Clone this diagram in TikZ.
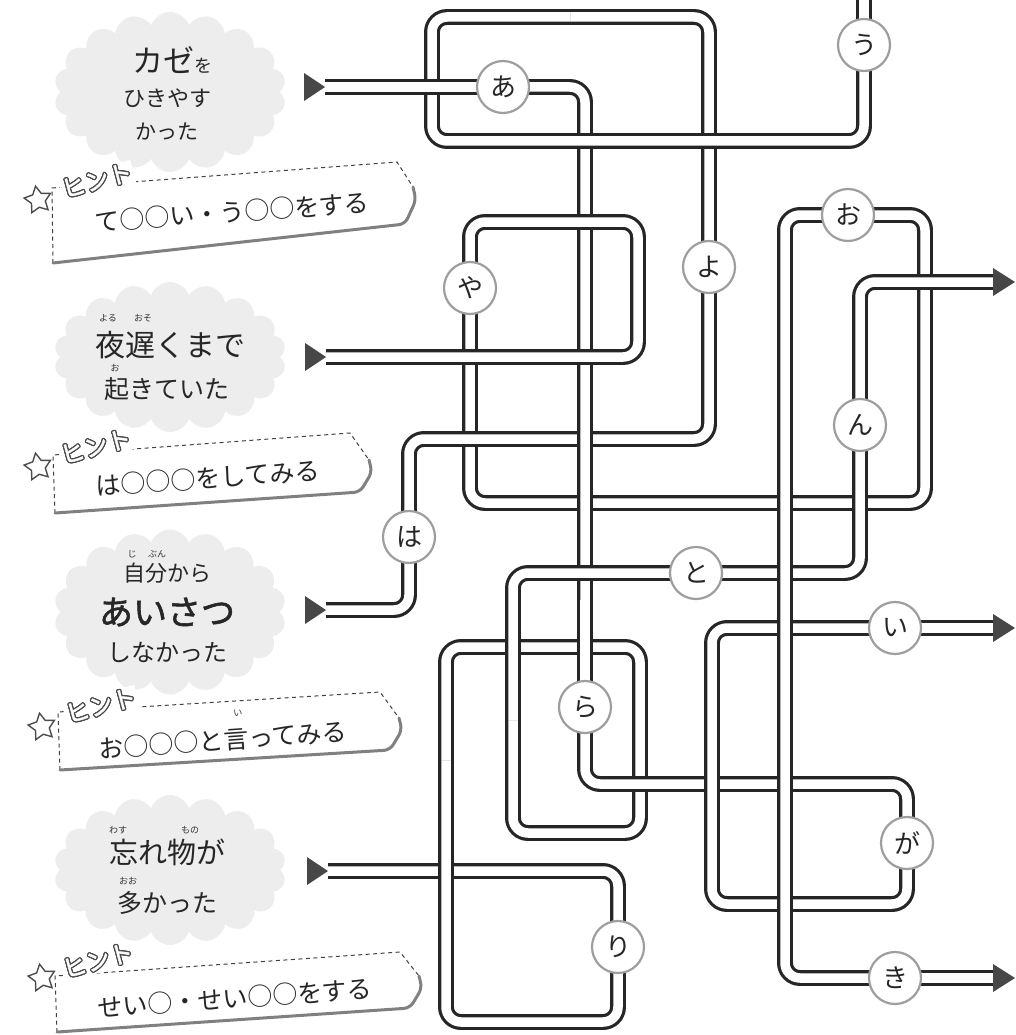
\documentclass[tikz,border=0pt]{standalone}
\usepackage{fontspec}
\usepackage[copies]{contour}
\newfontfamily\jp{Noto Sans CJK JP}
\newfontfamily\jpb[FakeBold=1.6]{Noto Sans CJK JP}
\usetikzlibrary{shapes.symbols,shapes.geometric}
\newcommand\fs[1]{\fontsize{#1}{#1}\selectfont}
\contourlength{1.3pt}
\contournumber{12}
\newcommand\hintword{{\color{white}\contour{black!70}{ヒント}}}
\begin{document}
\begin{tikzpicture}[x=1pt,y=-1pt,
 pipe/.style={draw=black!85,line width=3.2pt,double=white,double distance=9.5pt,rounded corners=15pt},
 ltr/.style={circle,draw=black!38,line width=2.2pt,fill=white,minimum size=52pt,inner sep=0pt,font=\jp\fs{26},text=black!85},
 tri/.style={fill=black!72},
 cloudbg/.style={cloud,cloud puffs=18,cloud puff arc=140,cloud ignores aspect,fill=black!7,draw=none,inner sep=0pt,minimum width=232pt},
 hdash/.style={draw=black!75,line width=1pt,dash pattern=on 4pt off 3.5pt},
 hsolid/.style={draw=black!50,line width=3pt,line join=round,line cap=round},
 txt/.style={text=black!85,inner sep=0pt},
 badge/.style={inner sep=1.5pt,fill=white,font=\jpb\fs{24},rotate=15},
 bstar/.style={star,star points=5,star point ratio=1.9,draw=black!70,line width=1.4pt,fill=white,minimum size=28pt,inner sep=0pt,rotate=10},
 ruby/.style={text=black!80,inner sep=0pt,font=\jp\fs{9}},
]
\useasboundingbox (0,0) rectangle (1016,1035);
\fill[white] (0,0) rectangle (1016,1035);

% ---------- background clouds ----------
\node[cloudbg,minimum height=160pt] (bg1) at (170,92) {};
\node[cloudbg,minimum height=150pt] (bg2) at (170,357) {};
\node[cloudbg,minimum height=165pt] (bg3) at (170,612) {};
\node[cloudbg,minimum height=150pt] (bg4) at (170,870) {};

% ---------- hint boxes ----------
\fill[white] (52,188) -- (397,162) -- (414,190) -- (405,224) -- (53,263) -- cycle;
\draw[hdash] (53,263) -- (52,188) -- (397,162) -- (413,187);
\draw[hsolid,rounded corners=6pt] (413,187) -- (416,200) -- (405,224) -- (53,263);

\fill[white] (53,455) -- (350,433) -- (370,462) -- (360,492) -- (55,513) -- cycle;
\draw[hdash] (55,513) -- (53,455) -- (350,433) -- (369,460);
\draw[hsolid,rounded corners=6pt] (369,460) -- (372,472) -- (360,492) -- (55,513);

\fill[white] (58,712) -- (380,692) -- (400,720) -- (390,750) -- (60,770) -- cycle;
\draw[hdash] (60,770) -- (58,712) -- (380,692) -- (399,718);
\draw[hsolid,rounded corners=6pt] (399,718) -- (402,730) -- (390,750) -- (60,770);

\fill[white] (55,976) -- (400,952) -- (420,978) -- (410,1008) -- (57,1032) -- cycle;
\draw[hdash] (57,1032) -- (55,976) -- (400,952) -- (419,976);
\draw[hsolid,rounded corners=6pt] (419,976) -- (422,988) -- (410,1008) -- (57,1032);

% badges
\node[bstar] (s1) at (38,200) {};
\node[badge] (b1) at (97,181) {\hintword};
\node[bstar] (s2) at (38,467) {};
\node[badge] (b2) at (96,447) {\hintword};
\node[bstar] (s3) at (42,727) {};
\node[badge] (b3) at (101,706) {\hintword};
\node[bstar] (s4) at (42,978) {};
\node[badge] (b4) at (98,961) {\hintword};

% hint texts
\node[txt,rotate=4,font=\jp\fs{25}] (k1) at (232,212) {て○○い・う○○をする};
\node[txt,rotate=4,font=\jp\fs{25}] (k2) at (208,478) {は○○○をしてみる};
\node[txt,rotate=4,font=\jp\fs{25}] (k3) at (223,740) {お○○○と言ってみる};
\node[ruby,rotate=4] (k3r) at (238,713) {い};
\node[txt,rotate=4,font=\jp\fs{25}] (k4) at (235,998) {せい○・せい○○をする};

% main texts
\node[txt,font=\jp\fs{31}] (t1a) at (172,60) {カゼ{\fs{18}を}};
\node[txt,font=\jp\fs{22}] (t1b) at (167,98) {ひきやす};
\node[txt,font=\jp\fs{21}] (t1c) at (167,132) {かった};

\node[ruby] (r2a) at (108,318) {よる};
\node[ruby] (r2b) at (143,318) {おそ};
\node[txt,font=\jp\fs{30}] (t2a) at (170,345) {夜遅くまで};
\node[ruby] (r2c) at (115,368) {お};
\node[txt,font=\jp\fs{25}] (t2b) at (167,389) {起きていた};

\node[ruby] (r3a) at (132,554) {じ};
\node[ruby] (r3b) at (157,554) {ぶん};
\node[txt,font=\jp\fs{22}] (t3a) at (167,573) {自分から};
\node[txt,font=\jpb\fs{34}] (t3b) at (167,612) {あいさつ};
\node[txt,font=\jp\fs{24}] (t3c) at (167,652) {しなかった};

\node[ruby] (r4a) at (118,830) {わす};
\node[ruby] (r4b) at (190,830) {もの};
\node[txt,font=\jp\fs{29}] (t4a) at (167,852) {忘れ物が};
\node[ruby] (r4c) at (128,881) {おお};
\node[txt,font=\jp\fs{25}] (t4b) at (167,903) {多かった};

% ---------- maze coordinates ----------
\coordinate (cA) at (503,87);
\coordinate (cU) at (864,45);
\coordinate (cO) at (848,215);
\coordinate (cYa) at (470,288);
\coordinate (cYo) at (709,267);
\coordinate (cN) at (860,425);
\coordinate (cHa) at (409,537);
\coordinate (cTo) at (696,573);
\coordinate (cI) at (895,628);
\coordinate (cRa) at (585,707);
\coordinate (cGa) at (907,843);
\coordinate (cRi) at (618,947);
\coordinate (cKi) at (895,978);
\coordinate (la1) at (325,87);
\coordinate (la2) at (326,357);
\coordinate (la3) at (326,610);
\coordinate (la4) at (328,871);
\coordinate (ra1) at (993,282);
\coordinate (ra2) at (993,628);
\coordinate (ra3) at (993,978);
\coordinate (top) at (864,0);
\coordinate (j1) at (570,17);
\coordinate (j2) at (585,600);
\coordinate (j3) at (446,760);
\coordinate (j4) at (513,720);

% ---------- pipes ----------
\draw[pipe] (cYa) -- (470,503) -- (925,503) -- (925,215) -- (cO);
\draw[pipe] (cHa) -- (409,439) -- (709,439) -- (cYo);
\draw[pipe] (cA) -- (585,87) -- (j2);
\draw[pipe] (la2) -- (638,357) -- (638,222) -- (470,222) -- (cYa);
\draw[pipe] (cYo) -- (709,17) -- (j1);
\draw[pipe] (j1) -- (432,17) -- (432,141) -- (864,141) -- (cU);
\draw[pipe] (la1) -- (cA);
\draw[pipe] (la4) -- (618,871) -- (cRi);
\draw[pipe] (cRi) -- (618,1022) -- (446,1022) -- (j3);
\draw[pipe] (j3) -- (446,647) -- (640,647) -- (640,833) -- (513,833) -- (j4);
\draw[pipe] (j4) -- (513,573) -- (cTo);
\draw[pipe] (j2) -- (cRa);
\draw[pipe] (cRa) -- (585,784) -- (907,784) -- (cGa);
\draw[pipe] (cGa) -- (907,904) -- (712,904) -- (712,628) -- (cI);
\draw[pipe] (cI) -- (ra2);
\draw[pipe] (cTo) -- (860,573) -- (cN);
\draw[pipe] (cN) -- (860,282) -- (ra1);
\draw[pipe] (cO) -- (785,215) -- (785,978) -- (cKi);
\draw[pipe] (cKi) -- (ra3);
\draw[pipe] (la3) -- (409,610) -- (cHa);
\draw[pipe] (cU) -- (top);

% ---------- arrows ----------
\fill[tri] (la1) -- ++(-21,-14) -- ++(0,28) -- cycle;
\fill[tri] (la2) -- ++(-21,-14) -- ++(0,28) -- cycle;
\fill[tri] (la3) -- ++(-21,-14) -- ++(0,28) -- cycle;
\fill[tri] (la4) -- ++(-21,-14) -- ++(0,28) -- cycle;
\fill[tri] (ra1) ++(0,-14) -- ++(22,14) -- ++(-22,14) -- cycle;
\fill[tri] (ra2) ++(0,-14) -- ++(22,14) -- ++(-22,14) -- cycle;
\fill[tri] (ra3) ++(0,-14) -- ++(22,14) -- ++(-22,14) -- cycle;

% ---------- letter circles ----------
\node[ltr] (A) at (cA) {あ};
\node[ltr] (U) at (cU) {う};
\node[ltr] (O) at (cO) {お};
\node[ltr] (YA) at (cYa) {や};
\node[ltr] (YO) at (cYo) {よ};
\node[ltr] (N) at (cN) {ん};
\node[ltr] (HA) at (cHa) {は};
\node[ltr] (TO) at (cTo) {と};
\node[ltr] (I) at (cI) {い};
\node[ltr] (RA) at (cRa) {ら};
\node[ltr] (GA) at (cGa) {が};
\node[ltr] (RI) at (cRi) {り};
\node[ltr] (KI) at (cKi) {き};
\end{tikzpicture}
\end{document}
